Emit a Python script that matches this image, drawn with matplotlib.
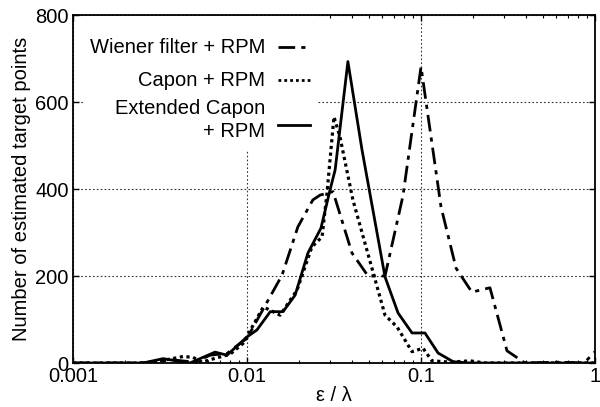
import numpy as np
import matplotlib.pyplot as plt
from matplotlib.lines import Line2D
from matplotlib.patches import Rectangle

plt.rcParams['font.family'] = ['Liberation Sans', 'DejaVu Sans']

# values (x = eps/lambda, y = number of points)
wiener_x = [0.001, 0.00243, 0.00376, 0.00502, 0.00613, 0.00767, 0.01, 0.0159, 0.0196, 0.0239,
            0.0263, 0.0312, 0.0401, 0.0496, 0.0621, 0.0788, 0.1, 0.1303, 0.159, 0.196,
            0.249, 0.312, 0.396, 0.63, 0.865, 1.0]
wiener_y = [0, 0, 7, 2, 18, 22, 57, 202, 313, 375,
            386, 394, 253, 200, 200, 385, 681, 359, 218, 163,
            173, 28, 0, 2, 0, 26]

capon_x = [0.001, 0.00277, 0.00429, 0.00489, 0.00551, 0.00672, 0.00798, 0.00949, 0.0124, 0.0155,
           0.0194, 0.0236, 0.027, 0.0288, 0.0316, 0.0342, 0.0406, 0.0621, 0.0728, 0.0888,
           0.1027, 0.1156, 0.147, 0.191, 0.233, 1.0]
capon_y = [0, 0, 15, 13, 2, 12, 20, 45, 129, 110,
           168, 267, 290, 390, 566, 520, 375, 110, 83, 26,
           34, 5, 2, 5, 0, 0]

ext_x = [0.001, 0.00253, 0.00329, 0.0047, 0.00655, 0.00767, 0.01, 0.0114, 0.0136, 0.0161,
         0.0189, 0.0224, 0.0266, 0.030, 0.0321, 0.038, 0.0458, 0.0621, 0.0738, 0.0888,
         0.1054, 0.1253, 0.153, 0.191, 1.0]
ext_y = [0, 0, 10, 0, 25, 18, 60, 76, 118, 118,
         156, 253, 310, 398, 444, 693, 490, 198, 115, 69,
         69, 23, 3, 0, 0]

fig = plt.figure(figsize=(6.0, 4.07), dpi=100)
ax = fig.add_axes([0.1217, 0.1081, 0.87, 0.855])

ax.plot(wiener_x, wiener_y, color='black', lw=2, dashes=(6, 2.2, 1.5, 2.2))
ax.plot(capon_x, capon_y, color='black', lw=2.3, linestyle=(0, (1, 1.1)))
ax.plot(ext_x, ext_y, color='black', lw=2)

ax.set_xscale('log')
ax.set_xlim(0.001, 1)
ax.set_ylim(0, 800)
ax.set_xticks([0.001, 0.01, 0.1, 1])
ax.set_xticklabels(['0.001', '0.01', '0.1', '1'])
ax.set_yticks([0, 200, 400, 600, 800])
ax.tick_params(which='both', direction='in', top=True, right=True, labelsize=14.5)
ax.tick_params(which='major', length=4, width=1)
ax.tick_params(which='minor', length=2.5, width=0.8)
ax.tick_params(axis='x', pad=3)
ax.tick_params(axis='y', pad=3)
ax.grid(True, which='major', color='#333333', linestyle=(0, (1.5, 2)), lw=0.8)
for s in ax.spines.values():
    s.set_linewidth(1.3)

ax.set_xlabel('ε / λ', fontsize=14.5, labelpad=0)
ax.set_ylabel('Number of estimated target points', fontsize=14.5, labelpad=3)

# legend drawn by hand: right-aligned text with line sample on its right
ax.add_patch(Rectangle((0.023, 0.612), 0.446, 0.385, transform=ax.transAxes,
                       facecolor='white', edgecolor='none', zorder=2.5))
labels = ['Wiener filter + RPM', 'Capon + RPM', 'Extended Capon\n+ RPM']
styles = [dict(dashes=(6, 2.2, 1.5, 2.2)), dict(linestyle=(0, (1, 1.1))), dict()]
rows = [0.908, 0.813, 0.684]
text_rows = [0.908, 0.813, 0.698]
for lab, st, yy, ty in zip(labels, styles, rows, text_rows):
    ax.text(0.368, ty, lab, transform=ax.transAxes, ha='right', va='center',
            fontsize=14.5, linespacing=1.3, zorder=3)
    ax.add_line(Line2D([0.393, 0.454], [yy, yy], transform=ax.transAxes,
                       color='black', lw=2, zorder=3, **st))

fig.savefig('out.png', dpi=100)
